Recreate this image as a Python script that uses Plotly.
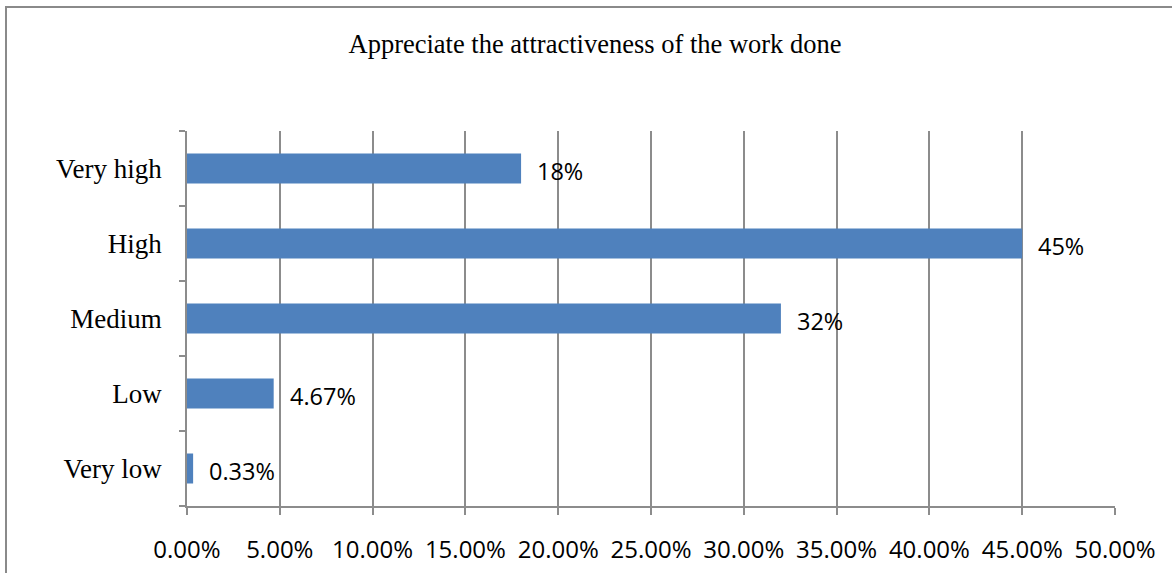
import plotly.graph_objects as go

# Survey answers, bottom to top on the category axis
categories = ["Very low", "Low", "Medium", "High", "Very high"]
shares = [0.33, 4.67, 32, 45, 18]
share_labels = ["0.33%", "4.67%", "32%", "45%", "18%"]
x_ticks = [0, 5, 10, 15, 20, 25, 30, 35, 40, 45, 50]

W, H = 1172, 573
M_L, M_R, M_T, M_B = 187, 57, 131, 67
plot_w = W - M_L - M_R
plot_h = H - M_T - M_B

serif = "Liberation Serif, Times New Roman, serif"
sans = "Open Sans, Calibri, sans-serif"
grid = "#8c8c8c"

fig = go.Figure(
    go.Bar(
        x=shares,
        y=categories,
        orientation="h",
        marker=dict(color="#4f81bd", line=dict(width=0)),
        hoverinfo="skip",
    )
)

# Value labels next to each bar end
for cat, val, lab in zip(categories, shares, share_labels):
    fig.add_annotation(
        x=val, y=cat, text=lab, showarrow=False,
        xanchor="left", yanchor="middle", xshift=14, yshift=-2,
        font=dict(family=sans, size=23.5, color="#000000"),
    )

# Chart frame (top and left edges visible)
fig.add_shape(
    type="rect", xref="paper", yref="paper",
    x0=(6 - M_L) / plot_w, x1=(W + 20 - M_L) / plot_w,
    y0=-(H + 20 - (H - M_B)) / plot_h, y1=(H - M_B - 7) / plot_h,
    line=dict(color="#8a8a8a", width=2), fillcolor="rgba(0,0,0,0)", layer="below",
)

fig.update_layout(
    width=W, height=H,
    margin=dict(l=M_L, r=M_R, t=M_T, b=M_B, pad=0, autoexpand=False),
    paper_bgcolor="white", plot_bgcolor="white",
    bargap=0.6,
    showlegend=False,
    title=dict(
        text="Appreciate the attractiveness of the work done",
        x=595 / W, xref="container", xanchor="center",
        y=1 - 44 / H, yref="container", yanchor="middle",
        font=dict(family=serif, size=26.5, color="#000000"),
    ),
    xaxis=dict(
        range=[0, 50], tickvals=x_ticks,
        ticktext=[f"{v:.2f}%" for v in x_ticks],
        tickangle=0, automargin=False,
        showgrid=True, gridcolor=grid, gridwidth=1.5,
        showline=True, linecolor=grid, linewidth=1.5,
        ticks="outside", ticklen=7, tickcolor=grid, tickwidth=1.5,
        ticklabelstandoff=14,
        tickfont=dict(family=sans, size=24, color="#000000"),
        zeroline=False, fixedrange=True,
    ),
    yaxis=dict(
        categoryorder="array", categoryarray=categories,
        automargin=False,
        showgrid=False,
        showline=True, linecolor=grid, linewidth=1.5,
        ticks="outside", ticklen=6, tickcolor=grid, tickwidth=1.5,
        tickson="boundaries",
        ticklabelstandoff=18,
        tickfont=dict(family=serif, size=27, color="#000000"),
        fixedrange=True,
    ),
)

fig.write_html("out.html")
